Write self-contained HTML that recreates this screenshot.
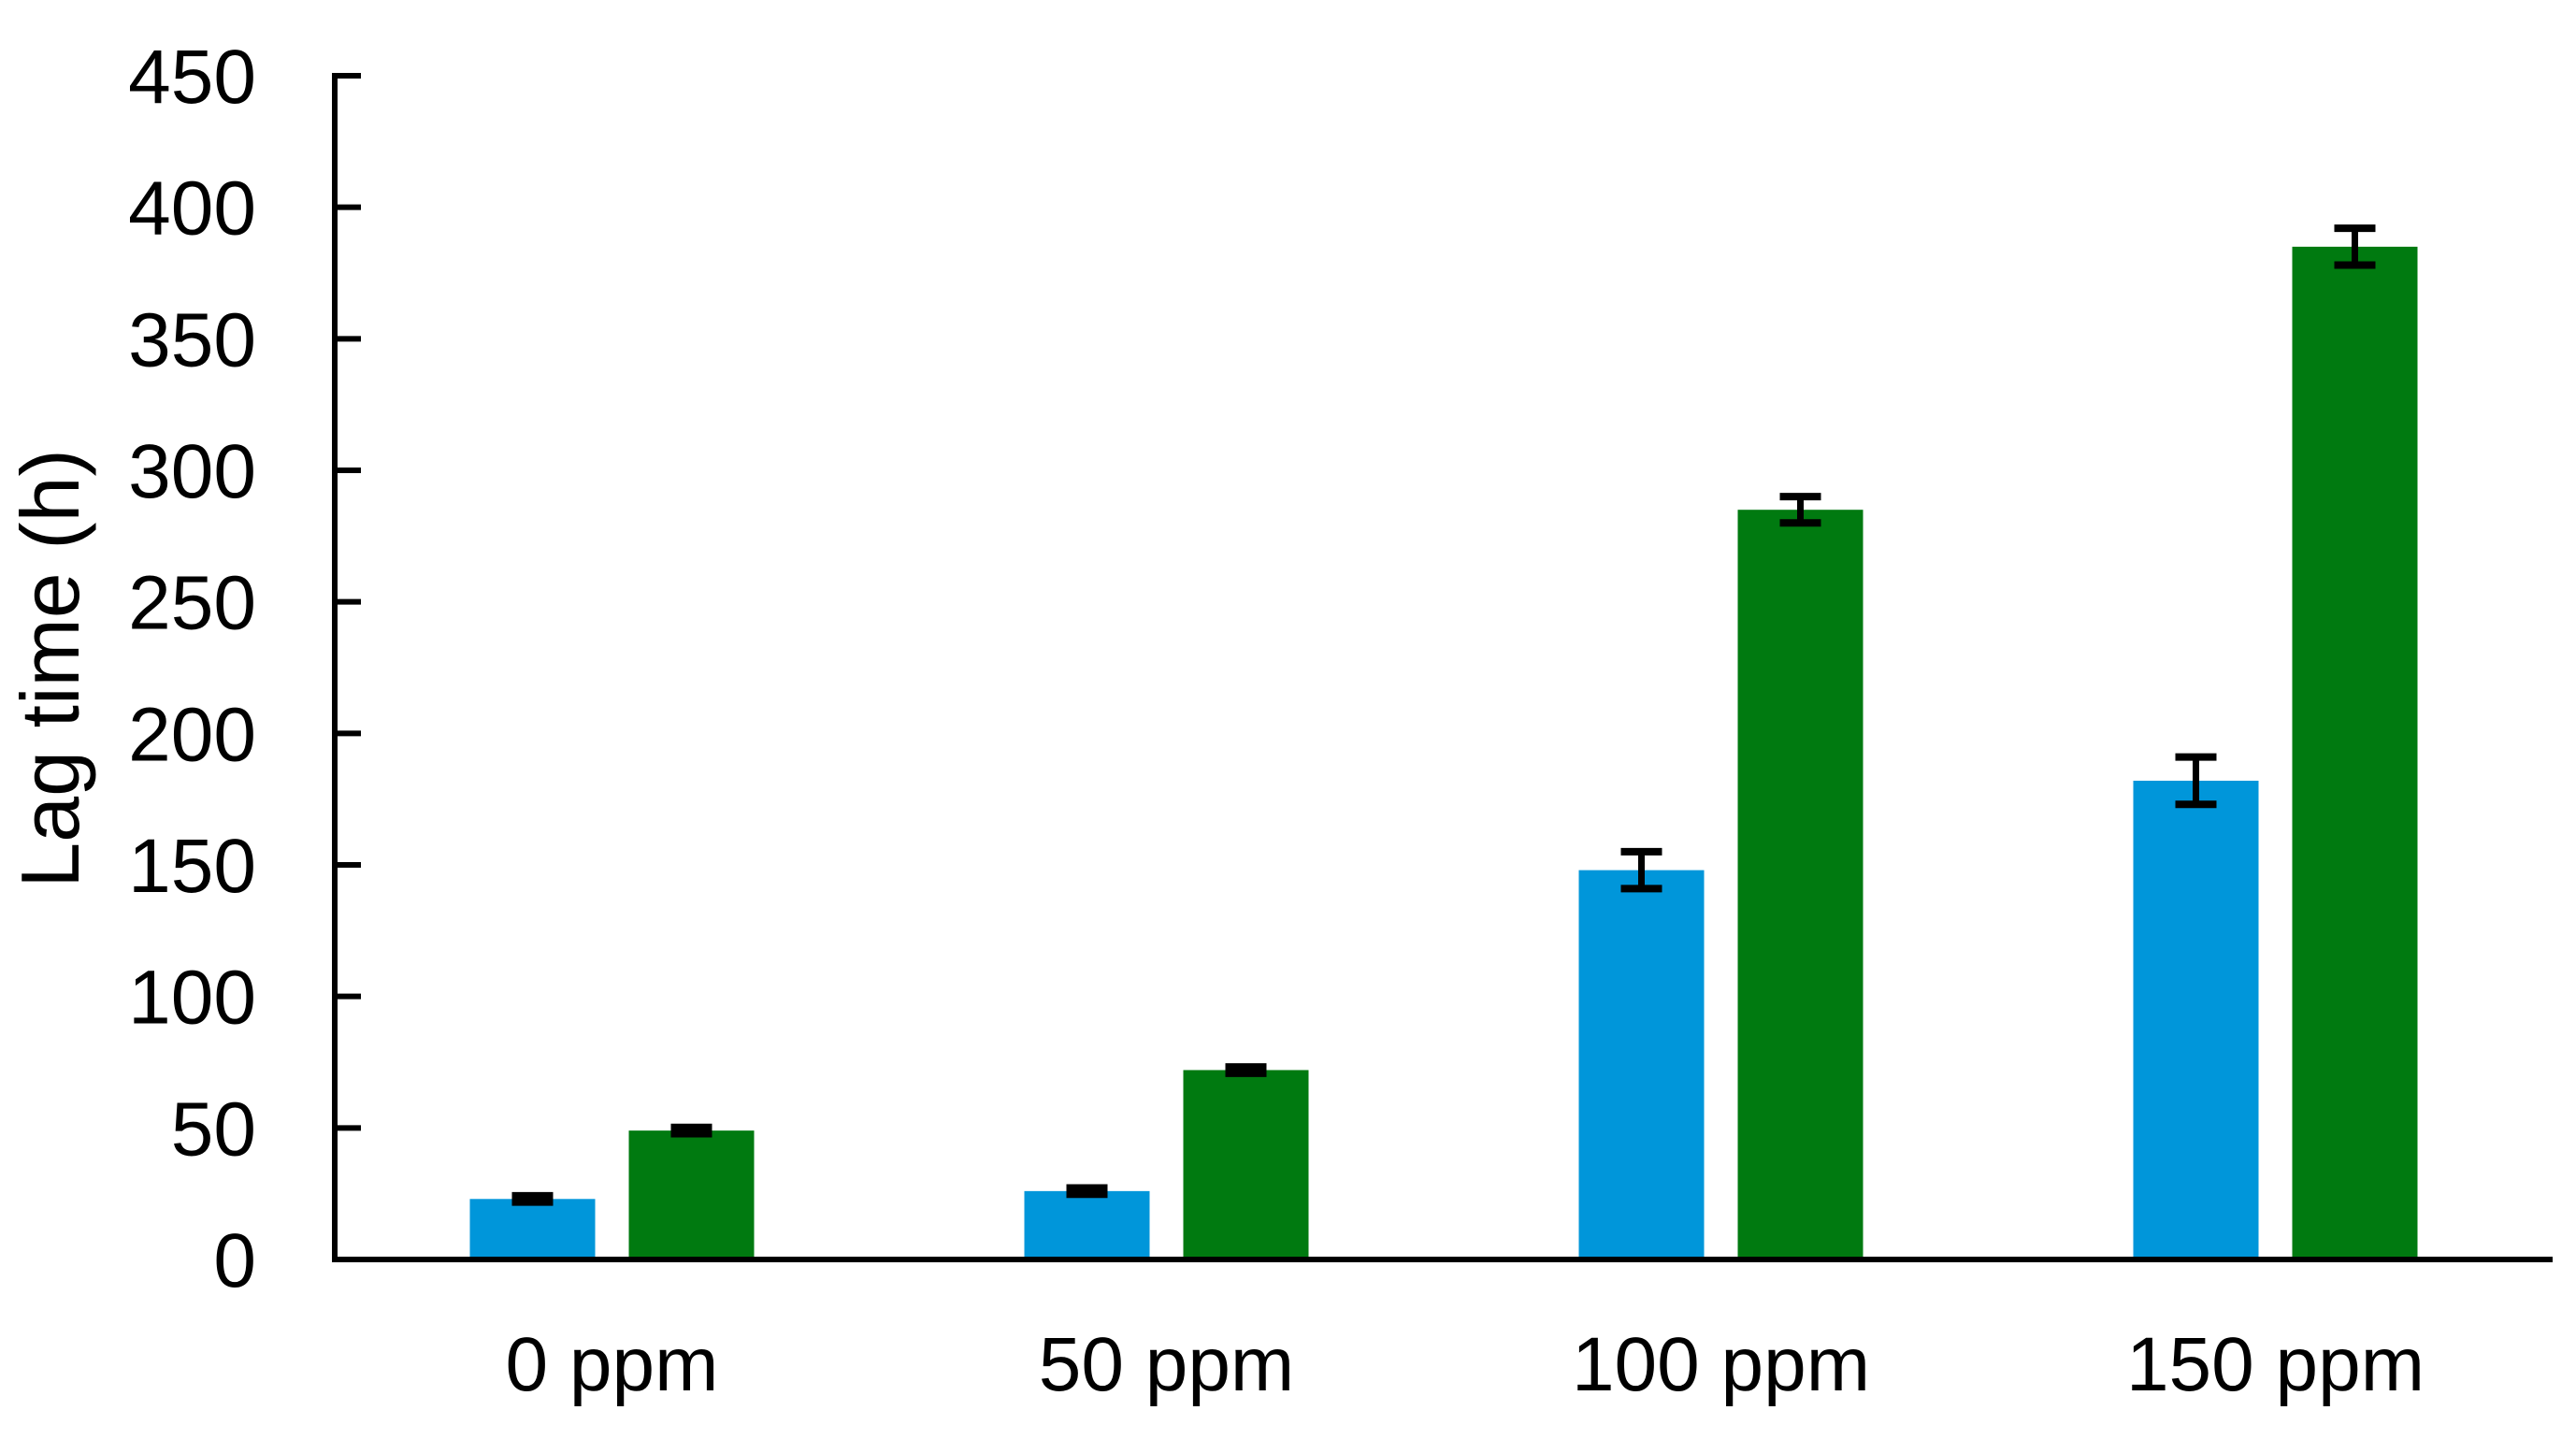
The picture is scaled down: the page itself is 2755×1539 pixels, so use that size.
<!DOCTYPE html>
<html><head><meta charset="utf-8"><style>
html,body{margin:0;padding:0;background:#fff;}
svg{display:block;font-family:"Liberation Sans",sans-serif;}
</style></head><body>
<svg id="chart" width="2755" height="1539" viewBox="0 0 2755 1539" xmlns="http://www.w3.org/2000/svg">
</svg>
<script>
const categories = ["0 ppm","50 ppm","100 ppm","150 ppm"];
const seriesA = [23, 26, 148, 182];
const seriesB = [49, 72, 285, 385];
const errA = [1.2, 1.2, 7, 9];
const errB = [1.2, 1.2, 5, 7];
const yTicks = [0,50,100,150,200,250,300,350,400,450];

const NS="http://www.w3.org/2000/svg";
const svg=document.getElementById('chart');
const X0=358, X1=2730, Y0=1347, Y1=81, YMAX=450;
const y=v=>Y0-(v/YMAX)*(Y0-Y1);
const bandW=(X1-X0)/categories.length;
const xc=i=>X0+bandW*(i+0.5);
const BW=134, OFF=85;
function mk(tag,attrs,parent){const e=document.createElementNS(NS,tag);for(const k in attrs)e.setAttribute(k,attrs[k]);(parent||svg).appendChild(e);return e;}

function bars(vals,errs,off,color,name){
  vals.forEach((v,i)=>{
    const cx=xc(i)+off;
    const r=mk('rect',{x:cx-BW/2,y:y(v),width:BW,height:Y0-y(v),fill:color});
    
    
    const g=mk('g',{stroke:'#000','stroke-width':8,fill:'none'});
    
    
    const e=errs[i];
    mk('line',{x1:cx,x2:cx,y1:y(v+e),y2:y(v-e),'stroke-width':7},g);
    mk('line',{x1:cx-22,x2:cx+22,y1:y(v+e),y2:y(v+e)},g);
    mk('line',{x1:cx-22,x2:cx+22,y1:y(v-e),y2:y(v-e)},g);
  });
}
bars(seriesA,errA,-OFF,'#0096DA','series-a');
bars(seriesB,errB,OFF,'#007A10','series-b');

let a=mk('line',{x1:X0,x2:X0,y1:Y1-3,y2:Y0+3,stroke:'#000','stroke-width':6});


a=mk('line',{x1:X0-3,x2:X1,y1:Y0,y2:Y0,stroke:'#000','stroke-width':6});



yTicks.forEach(t=>{
  const l=mk('line',{x1:X0,x2:X0+28,y1:y(t),y2:y(t),stroke:'#000','stroke-width':6});
  
  
  const tx=mk('text',{x:274,y:y(t)+29,'text-anchor':'end','font-size':82,fill:'#000'});
  tx.textContent=t;
  
  
});
categories.forEach((c,i)=>{
  const tx=mk('text',{x:xc(i),y:1487,'text-anchor':'middle','font-size':82,fill:'#000'});
  tx.textContent=c;
  
  
});
const t=mk('text',{x:0,y:0,'text-anchor':'middle','font-size':88,fill:'#000',transform:'translate(84,715) rotate(-90)'});
t.textContent='Lag time (h)';


</script>
</body></html>
